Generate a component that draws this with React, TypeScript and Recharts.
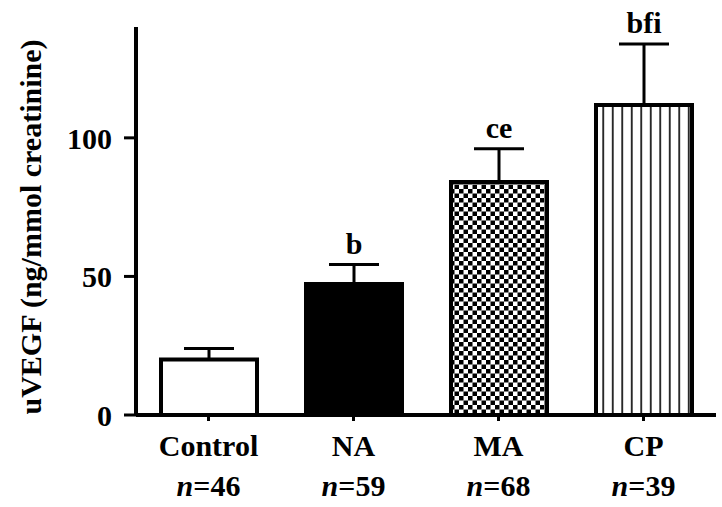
import { Bar, BarChart, Cell, ErrorBar, LabelList, XAxis, YAxis } from 'recharts'

const groups = ['Control', 'NA', 'MA', 'CP']
const counts = [46, 59, 68, 39]
const means = [20, 47.3, 84.1, 111.9]
const sems = [4, 7, 12, 22]
const letters = ['', 'b', 'ce', 'bfi']
const yTicks = [0, 50, 100]

const fills = ['#ffffff', '#000000', 'url(#checker)', 'url(#vlines)']
const FONT = '"Liberation Serif", "Times New Roman", serif'

const data = groups.map((g, i) => ({
    group: g,
    n: counts[i],
    value: means[i],
    err: [0, sems[i]],
    letter: letters[i],
}))

function GroupTick(props: any) {
    const { x, y, payload, index } = props
    return (
        <g fontFamily={FONT} fontWeight='bold' fontSize={30} fill='#000'>
            <text x={x} y={y + 33} textAnchor='middle'>
                {payload.value}
            </text>
            <text x={x} y={y + 73} textAnchor='middle'>
                <tspan fontStyle='italic'>n</tspan>={counts[index]}
            </text>
        </g>
    )
}

function LetterLabel(props: any) {
    const { x, y, width, height, value, index } = props
    if (!value) return null
    // px per unit from the bar itself, so the letter sits over the error cap
    const perUnit = height / means[index]
    const top = y - sems[index] * perUnit
    return (
        <text
            x={x + width / 2}
            y={top - 11}
            textAnchor='middle'
            fontFamily={FONT}
            fontWeight='bold'
            fontSize={30}
            fill='#000'
        >
            {value}
        </text>
    )
}

export default function App() {
    return (
        <div style={{ position: 'absolute', left: 0, top: 0, background: '#fff' }}>
            <BarChart
                width={722}
                height={507}
                data={data}
                margin={{ top: 27, right: 6, bottom: 12, left: 56 }}
            >
                <defs>
                    <pattern id='checker' width={9} height={9} patternUnits='userSpaceOnUse'>
                        <rect width={9} height={9} fill='#fff' />
                        <rect width={4.5} height={4.5} fill='#000' />
                        <rect x={4.5} y={4.5} width={4.5} height={4.5} fill='#000' />
                    </pattern>
                    <pattern id='vlines' width={9.5} height={10} patternUnits='userSpaceOnUse'>
                        <rect width={9.5} height={10} fill='#fff' />
                        <line x1={4.75} y1={0} x2={4.75} y2={10} stroke='#000' strokeWidth={1.6} />
                    </pattern>
                </defs>
                <XAxis
                    dataKey='group'
                    height={80}
                    axisLine={{ stroke: '#000', strokeWidth: 4 }}
                    tickLine={{ stroke: '#000', strokeWidth: 3 }}
                    tickSize={6}
                    tick={<GroupTick />}
                    interval={0}
                />
                <YAxis
                    width={80}
                    domain={[0, 140]}
                    ticks={yTicks}
                    allowDataOverflow
                    axisLine={{ stroke: '#000', strokeWidth: 4 }}
                    tickLine={{ stroke: '#000', strokeWidth: 3 }}
                    tickSize={12}
                    tickMargin={12}
                    tick={{ fill: '#000', fontFamily: FONT, fontWeight: 'bold', fontSize: 30 }}
                    label={{
                        content: () => (
                            <text
                                x={30}
                                y={227}
                                transform='rotate(-90 30 227)'
                                textAnchor='middle'
                                dominantBaseline='central'
                                fontFamily={FONT}
                                fontWeight='bold'
                                fontSize={30}
                                fill='#000'
                            >
                                uVEGF (ng/mmol creatinine)
                            </text>
                        ),
                    }}
                />
                <Bar
                    dataKey='value'
                    barSize={96}
                    stroke='#000'
                    strokeWidth={4}
                    isAnimationActive={false}
                >
                    {data.map((d, i) => (
                        <Cell key={d.group} fill={fills[i]} />
                    ))}
                    <ErrorBar dataKey='err' width={25} stroke='#000' strokeWidth={3} />
                    <LabelList dataKey='letter' content={<LetterLabel />} />
                </Bar>
            </BarChart>
        </div>
    )
}
